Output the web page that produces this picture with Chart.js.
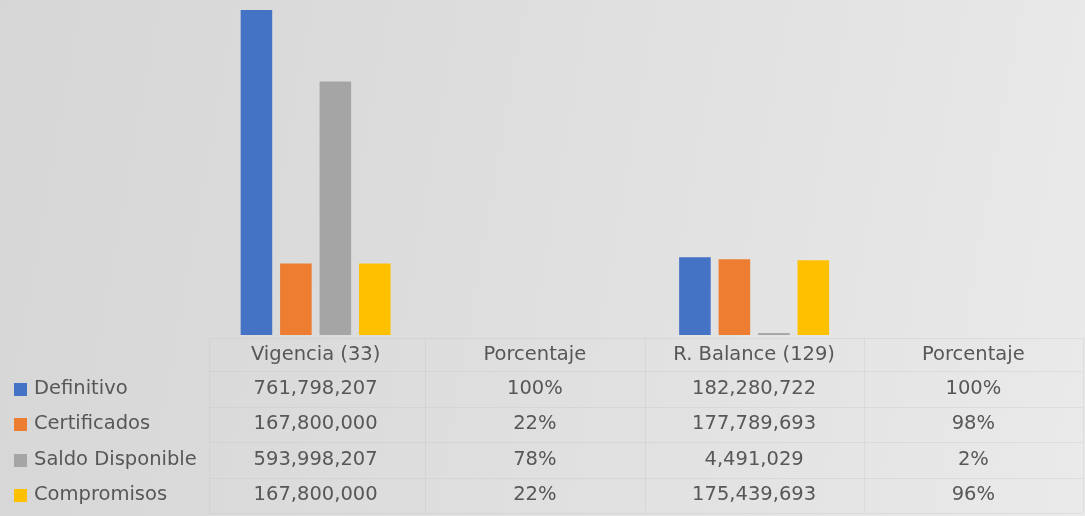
<!DOCTYPE html>
<html>
<head>
<meta charset="utf-8">
<script src="https://cdn.jsdelivr.net/npm/chart.js@4.4.0/dist/chart.umd.min.js"></script>
<style>
  html, body { margin: 0; padding: 0; }
  body {
    width: 1085px; height: 516px; overflow: hidden;
    background: linear-gradient(100deg, #d6d6d6 0%, #dcdcdc 35%, #e3e3e3 70%, #eaeaea 100%);
  }
  #wrap { position: relative; width: 1085px; height: 516px; }
</style>
</head>
<body>
<div id="wrap"><canvas id="budgetChart" width="1085" height="516"></canvas></div>
<script>
/* =========================================================
   DATA
========================================================= */
const categories = ["Vigencia (33)", "Porcentaje", "R. Balance (129)", "Porcentaje"];
const isPercent = [false, true, false, true];

const seriesNames = ["Definitivo", "Certificados", "Saldo Disponible", "Compromisos"];
const seriesColors = ["#4472C4", "#ED7D31", "#A5A5A5", "#FFC000"];

const definitivo      = [761798207, 1.00, 182280722, 1.00];
const certificados    = [167800000, 0.22, 177789693, 0.98];
const saldoDisponible = [593998207, 0.78,   4491029, 0.02];
const compromisos     = [167800000, 0.22, 175439693, 0.96];

const seriesValues = [definitivo, certificados, saldoDisponible, compromisos];

/* =========================================================
   DATA TABLE (drawn under the plot, aligned to x scale)
========================================================= */
function fmt(v, pct) {
  return pct ? Math.round(v * 100) + "%" : v.toLocaleString("en-US");
}

const dataTable = {
  id: "dataTable",
  afterDraw(chart) {
    const ctx = chart.ctx;
    const x = chart.scales.x;
    const area = chart.chartArea;
    const half = (x.getPixelForValue(1) - x.getPixelForValue(0)) / 2;
    const rowY = [338, 371, 406.5, 442, 477.5, 513];

    ctx.save();

    // grid
    ctx.strokeStyle = "rgba(190,190,190,0.28)";
    ctx.lineWidth = 1;
    ctx.beginPath();
    rowY.forEach(y => {
      ctx.moveTo(area.left + 3, Math.round(y) + 0.5);
      ctx.lineTo(area.right, Math.round(y) + 0.5);
    });
    for (let i = 0; i <= categories.length; i++) {
      const px = i < categories.length ? x.getPixelForValue(i) - half : x.getPixelForValue(i - 1) + half;
      const gx = Math.round(Math.max(px, area.left + 3)) + 0.5;
      ctx.moveTo(gx, rowY[0]);
      ctx.lineTo(gx, rowY[rowY.length - 1]);
    }
    ctx.stroke();

    // text
    ctx.font = "19.5px 'DejaVu Sans'";
    ctx.fillStyle = "#575757";
    ctx.textBaseline = "middle";
    ctx.textAlign = "center";

    categories.forEach((c, i) => {
      ctx.fillText(c, x.getPixelForValue(i), (rowY[0] + rowY[1]) / 2);
    });

    seriesNames.forEach((name, s) => {
      const cy = (rowY[s + 1] + rowY[s + 2]) / 2;
      ctx.fillStyle = seriesColors[s];
      ctx.fillRect(14, Math.round(cy) - 6, 13, 13);
      ctx.fillStyle = "#575757";
      ctx.textAlign = "left";
      ctx.fillText(name, 34, cy);
      ctx.textAlign = "center";
      seriesValues[s].forEach((v, i) => {
        ctx.fillText(fmt(v, isPercent[i]), x.getPixelForValue(i), cy);
      });
    });

    ctx.restore();
  }
};

/* =========================================================
   CHART
========================================================= */
new Chart(document.getElementById("budgetChart"), {
  type: "bar",
  data: {
    labels: categories,
    datasets: seriesNames.map((name, s) => ({
      label: name,
      data: seriesValues[s],
      backgroundColor: seriesColors[s],
      borderWidth: 0,
      categoryPercentage: 0.72,
      barPercentage: 0.8
    }))
  },
  options: {
    responsive: false,
    animation: false,
    layout: { padding: { left: 206, right: 2, top: 0, bottom: 181 } },
    plugins: { legend: { display: false }, tooltip: { enabled: false } },
    scales: {
      x: { display: false, grid: { display: false } },
      y: { display: false, min: 0, max: 785000000 }
    }
  },
  plugins: [dataTable]
});
</script>
</body>
</html>
